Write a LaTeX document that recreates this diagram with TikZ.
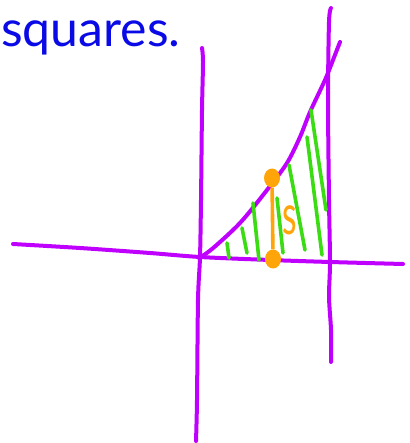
\documentclass[tikz,border=0pt]{standalone}
\usepackage{fontspec}
\setsansfont{Lato}
\usetikzlibrary{arrows.meta,positioning,shapes.geometric}
\definecolor{pen}{HTML}{BF00FF}
\definecolor{hatch}{HTML}{3CDC14}
\definecolor{marker}{HTML}{FFA50A}
\definecolor{ink}{HTML}{0A0AE6}

\begin{document}
\begin{tikzpicture}[
  x=1pt, y=-1pt,
  stroke/.style={draw=pen, line width=4pt, line cap=round, line join=round},
  shade/.style={draw=hatch, line width=3.6pt, line cap=round},
  dot/.style={ellipse, fill=marker, minimum width=16pt, minimum height=19pt, inner sep=0pt},
  seg/.style={draw=marker, line width=3.6pt},
]
\useasboundingbox (0,0) rectangle (409,443);

\node[anchor=base west, inner sep=0pt, text=ink, font=\sffamily\fontsize{50}{50}\selectfont] (title) at (1,47) {squares.};

% axes
\draw[stroke] plot[smooth] coordinates {(13,244) (80,248) (150,253) (200,257) (270,260) (330,262) (403,264)};
\draw[stroke] plot[smooth] coordinates {(202,48) (203,62) (202,110) (201,200) (200,257) (198,300) (197,400) (196,441)};
\draw[stroke] plot[smooth] coordinates {(331,8) (329,22) (328,100) (329,200) (330,262) (329,297) (331,330) (331,362)};

% curve
\draw[stroke] plot[smooth] coordinates {(199,258) (212,249) (240,223) (267,190) (287,163) (300,137) (310,112) (325,80) (333,60) (340,42)};

% hatching
\draw[shade] (311,110) -- (326,210);
\draw[shade] (307,137) -- (322,255);
\draw[shade] (289,165) -- (305,250);
\draw[shade] (277,198) -- (283,253);
\draw[shade] (253,203) -- (259,260);
\draw[shade] (242,228) -- (247,253);
\draw[shade] (227,243) -- (229,258);

% slice
\node[dot] (top) at (272,178) {};
\node[dot] (bot) at (273,259) {};
\draw[seg] (top) -- (bot);
\node[text=marker, font=\sffamily\fontsize{56}{56}\selectfont, inner sep=0pt] (s) at (290,220) {\scalebox{0.6}[1]{s}};

\end{tikzpicture}
\end{document}
